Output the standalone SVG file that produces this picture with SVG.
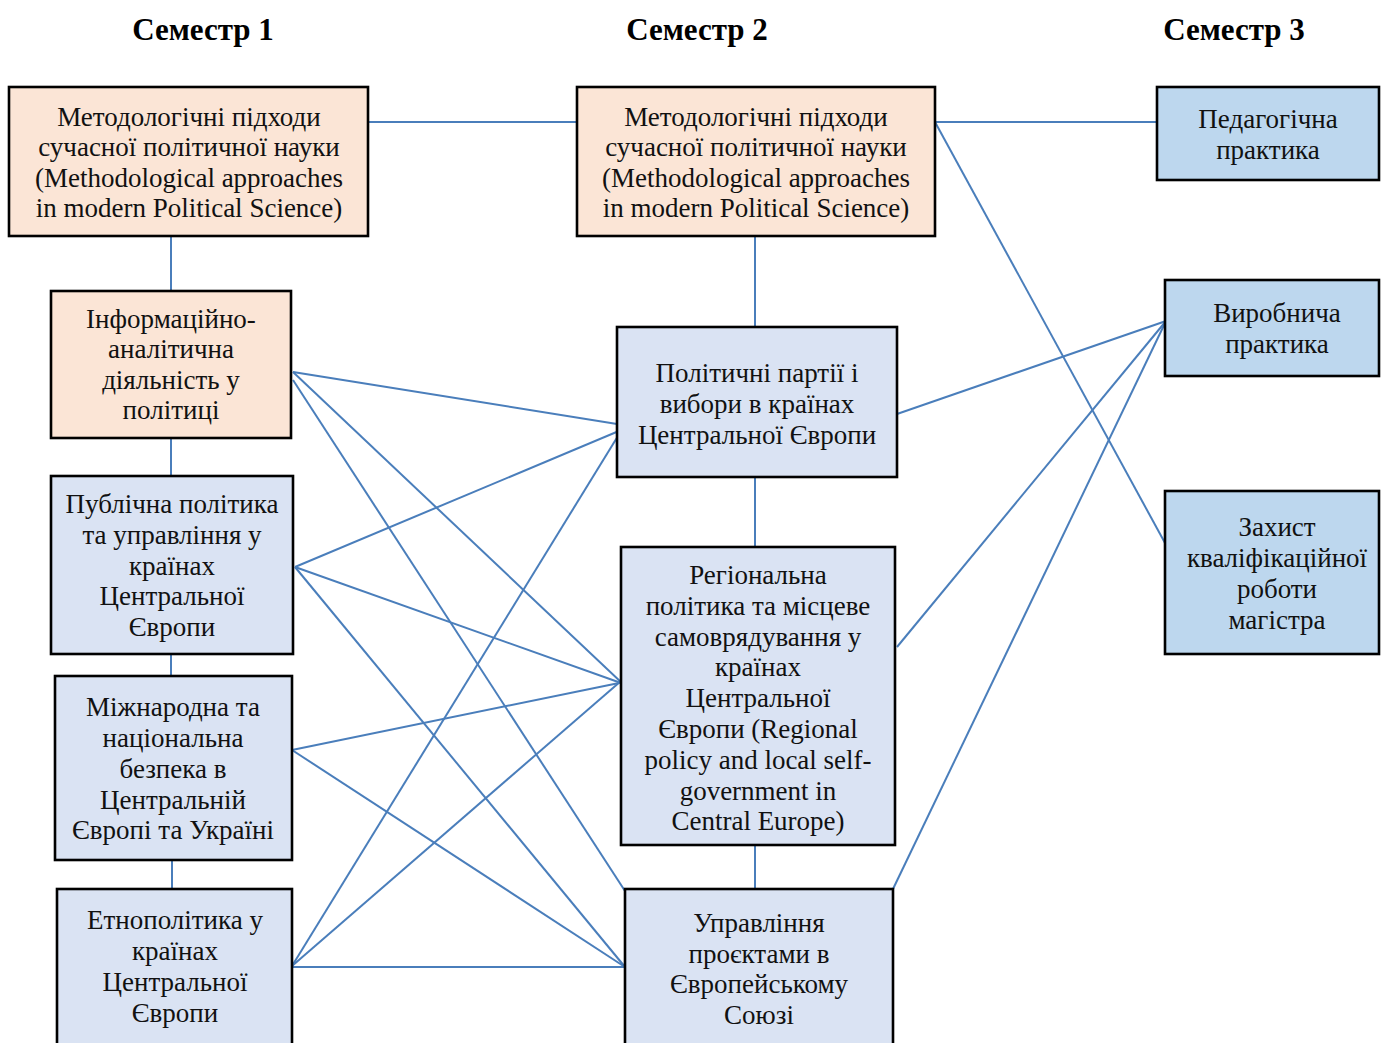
<svg xmlns="http://www.w3.org/2000/svg" width="1381" height="1043" viewBox="0 0 1381 1043">
<style>
.hdr{font-family:"Liberation Serif","Times New Roman",serif;font-weight:bold;font-size:31px;fill:#000;text-anchor:middle}
.t{font-family:"Liberation Serif","Times New Roman",serif;font-size:27px;fill:#111;text-anchor:middle}
.peach{fill:#fbe5d6;stroke:#000;stroke-width:2.6}
.lb{fill:#dae3f3;stroke:#000;stroke-width:2.6}
.db{fill:#bdd7ee;stroke:#000;stroke-width:2.6}
.c line{stroke:#4a7ebb;stroke-width:2}
</style>
<rect width="1381" height="1043" fill="#fff"/>
<g id="headers">
<text class="hdr" x="203" y="40">Семестр 1</text>
<text class="hdr" x="697" y="40">Семестр 2</text>
<text class="hdr" x="1234" y="40">Семестр 3</text>
</g>
<g id="connectors" class="c">
<line x1="368" y1="122" x2="577" y2="122"/>
<line x1="171" y1="236" x2="171" y2="291"/>
<line x1="171" y1="438" x2="171" y2="476"/>
<line x1="171" y1="654" x2="171" y2="676"/>
<line x1="172" y1="860" x2="172" y2="889"/>
<line x1="755" y1="236" x2="755" y2="327"/>
<line x1="755" y1="477" x2="755" y2="547"/>
<line x1="755" y1="845" x2="755" y2="889"/>
<line x1="935" y1="122" x2="1157" y2="122"/>
<line x1="935" y1="122" x2="1165" y2="543"/>
<line x1="897" y1="414" x2="1166" y2="321"/>
<line x1="897" y1="647" x2="1166" y2="321"/>
<line x1="893" y1="889" x2="1166" y2="321"/>
<line x1="293" y1="372" x2="617" y2="424"/>
<line x1="293" y1="372" x2="623" y2="684"/>
<line x1="293" y1="380" x2="625" y2="891"/>
<line x1="295" y1="567" x2="626" y2="428"/>
<line x1="295" y1="567" x2="621" y2="683"/>
<line x1="295" y1="567" x2="625" y2="967"/>
<line x1="292" y1="750" x2="619" y2="683"/>
<line x1="292" y1="750" x2="625" y2="967"/>
<line x1="292" y1="966" x2="618" y2="436"/>
<line x1="292" y1="966" x2="621" y2="681"/>
<line x1="292" y1="967" x2="625" y2="967"/>
</g>
<g id="n1"><rect class="peach" x="9" y="87" width="359" height="149"/>
<text class="t" x="189" y="126">Методологічні підходи</text>
<text class="t" x="189" y="156">сучасної політичної науки</text>
<text class="t" x="189" y="187">(Methodological approaches</text>
<text class="t" x="189" y="217">in modern Political Science)</text></g>
<g id="n2"><rect class="peach" x="51" y="291" width="240" height="147"/>
<text class="t" x="171" y="328">Інформаційно-</text>
<text class="t" x="171" y="358">аналітична</text>
<text class="t" x="171" y="389">діяльність у</text>
<text class="t" x="171" y="419">політиці</text></g>
<g id="n3"><rect class="lb" x="51" y="476" width="242" height="178"/>
<text class="t" x="172" y="513">Публічна політика</text>
<text class="t" x="172" y="544">та управління у</text>
<text class="t" x="172" y="575">країнах</text>
<text class="t" x="172" y="605">Центральної</text>
<text class="t" x="172" y="636">Європи</text></g>
<g id="n4"><rect class="lb" x="55" y="676" width="237" height="184"/>
<text class="t" x="173" y="716">Міжнародна та</text>
<text class="t" x="173" y="747">національна</text>
<text class="t" x="173" y="778">безпека в</text>
<text class="t" x="173" y="809">Центральній</text>
<text class="t" x="173" y="839">Європі та Україні</text></g>
<g id="n5"><rect class="lb" x="57" y="889" width="235" height="170"/>
<text class="t" x="175" y="929">Етнополітика у</text>
<text class="t" x="175" y="960">країнах</text>
<text class="t" x="175" y="991">Центральної</text>
<text class="t" x="175" y="1022">Європи</text></g>
<g id="n6"><rect class="peach" x="577" y="87" width="358" height="149"/>
<text class="t" x="756" y="126">Методологічні підходи</text>
<text class="t" x="756" y="156">сучасної політичної науки</text>
<text class="t" x="756" y="187">(Methodological approaches</text>
<text class="t" x="756" y="217">in modern Political Science)</text></g>
<g id="n7"><rect class="lb" x="617" y="327" width="280" height="150"/>
<text class="t" x="757" y="382">Політичні партії і</text>
<text class="t" x="757" y="413">вибори в країнах</text>
<text class="t" x="757" y="444">Центральної Європи</text></g>
<g id="n8"><rect class="lb" x="621" y="547" width="274" height="298"/>
<text class="t" x="758" y="584">Регіональна</text>
<text class="t" x="758" y="615">політика та місцеве</text>
<text class="t" x="758" y="646">самоврядування у</text>
<text class="t" x="758" y="676">країнах</text>
<text class="t" x="758" y="707">Центральної</text>
<text class="t" x="758" y="738">Європи (Regional</text>
<text class="t" x="758" y="769">policy and local self-</text>
<text class="t" x="758" y="800">government in</text>
<text class="t" x="758" y="830">Central Europe)</text></g>
<g id="n9"><rect class="lb" x="625" y="889" width="268" height="170"/>
<text class="t" x="759" y="932">Управління</text>
<text class="t" x="759" y="963">проєктами в</text>
<text class="t" x="759" y="993">Європейському</text>
<text class="t" x="759" y="1024">Союзі</text></g>
<g id="n10"><rect class="db" x="1157" y="87" width="222" height="93"/>
<text class="t" x="1268" y="128">Педагогічна</text>
<text class="t" x="1268" y="159">практика</text></g>
<g id="n11"><rect class="db" x="1165" y="280" width="214" height="96"/>
<text class="t" x="1277" y="322">Виробнича</text>
<text class="t" x="1277" y="353">практика</text></g>
<g id="n12"><rect class="db" x="1165" y="491" width="214" height="163"/>
<text class="t" x="1277" y="536">Захист</text>
<text class="t" x="1277" y="567">кваліфікаційної</text>
<text class="t" x="1277" y="598">роботи</text>
<text class="t" x="1277" y="629">магістра</text></g>
</svg>
